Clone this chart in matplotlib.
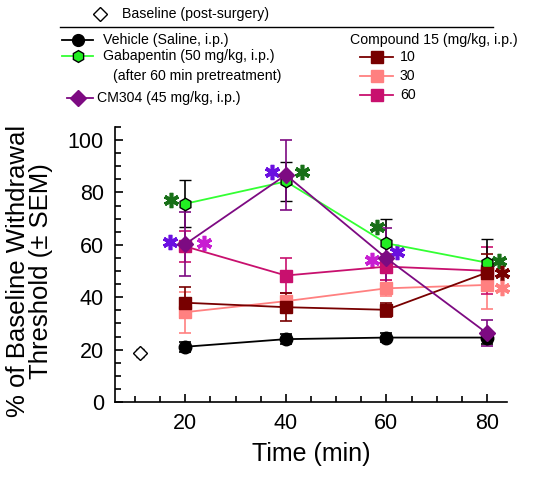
import numpy as np
import matplotlib
matplotlib.use("Agg")
import matplotlib.pyplot as plt
from matplotlib.lines import Line2D
from matplotlib.transforms import offset_copy
from matplotlib.ticker import MultipleLocator

plt.rcParams['font.family'] = ['Liberation Sans', 'DejaVu Sans']

# data (% of baseline withdrawal threshold, mean and SEM)
times = [20, 40, 60, 80]
baseline_time = [11]
baseline = [18.8]
baseline_sem = [1.5]
vehicle = [21.1, 24.0, 24.6, 24.6]
vehicle_sem = [2.0, 2.0, 1.8, 2.5]
gabapentin = [75.7, 84.2, 60.6, 53.2]
gabapentin_sem = [8.9, 7.5, 9.2, 9.0]
cm304 = [60.3, 86.7, 54.9, 26.3]
cm304_sem = [12.3, 13.5, 11.5, 4.9]
c15_10 = [37.9, 36.2, 35.2, 49.4]
c15_10_sem = [6.0, 5.3, 2.7, 7.0]
c15_30 = [34.3, 38.5, 43.4, 44.7]
c15_30_sem = [7.8, 3.0, 3.0, 9.3]
c15_60 = [59.4, 48.3, 51.7, 50.1]
c15_60_sem = [5.8, 6.6, 5.0, 8.9]

c_gab = '#33ff33'
c_gab_face = '#22ee22'
c_cm = '#7d0a82'
c_10 = '#780000'
c_30 = '#ff8080'
c_60 = '#c8106e'
c_star_green = '#187018'
c_star_blue = '#6a0fe0'
c_star_mag = '#c81ed2'

fig = plt.figure(figsize=(5.52, 4.82), dpi=100)
ax = fig.add_axes([115 / 552, 80 / 482, 392 / 552, 275 / 482])

eb = dict(capsize=4.5, elinewidth=1.2, capthick=1.2, lw=1.3)
ax.errorbar(times, c15_30, yerr=c15_30_sem, fmt='-s', color=c_30, ms=8.5, mec=c_30, **eb)
ax.errorbar(times, c15_60, yerr=c15_60_sem, fmt='-s', color=c_60, ms=8.5, mec=c_60, **eb)
ax.errorbar(times, vehicle, yerr=vehicle_sem, fmt='-o', color='black', ms=9, **eb)
ax.errorbar(times, gabapentin, yerr=gabapentin_sem, fmt='-h', color=c_gab, mfc=c_gab_face,
            mec='black', mew=1.0, ms=9, ecolor='black', **eb)
ax.errorbar(times, c15_10, yerr=c15_10_sem, fmt='-s', color=c_10, ms=8.5, mec=c_10, **eb)
ax.errorbar(times, cm304, yerr=cm304_sem, fmt='-D', color=c_cm, ms=8, mec=c_cm, **eb)
ax.errorbar(baseline_time, baseline, yerr=baseline_sem, fmt='D', mfc='white', mec='black',
            ecolor='black', ms=7, mew=1.0, capsize=3, elinewidth=1)

# significance asterisks: (series, index, dx pt, dy pt, colour)
series = {'gab': gabapentin, 'cm': cm304, '10': c15_10, '30': c15_30}
stars = [
    ('gab', 0, -10, 3, c_star_green),
    ('cm', 0, -11, 1.5, c_star_blue),
    ('cm', 0, 13.5, 1, c_star_mag),
    ('cm', 1, -10, 2, c_star_blue),
    ('gab', 1, 11.5, 6.5, c_star_green),
    ('gab', 2, -6.5, 12, c_star_green),
    ('cm', 2, -10, -1.5, c_star_mag),
    ('cm', 2, 8, 4.5, c_star_blue),
    ('gab', 3, 8.5, 1.5, c_star_green),
    ('10', 3, 11, 0, c_10),
    ('30', 3, 11, -2, c_30),
]
for key, i, dx, dy, col in stars:
    tr = offset_copy(ax.transData, fig=fig, x=dx, y=dy, units='points')
    ax.plot(times[i], series[key][i], marker=(6, 2, 0), ms=11, mew=2.6, color=col,
            transform=tr, clip_on=False)

ax.set_xlim(6, 84)
ax.set_ylim(0, 105)
ax.set_xticks([20, 40, 60, 80])
ax.set_yticks([0, 20, 40, 60, 80, 100])
ax.xaxis.set_minor_locator(MultipleLocator(5))
ax.yaxis.set_minor_locator(MultipleLocator(5))
ax.tick_params(which='both', direction='in', width=1.2, labelsize=15.5, pad=8)
ax.tick_params(which='major', length=6)
ax.tick_params(which='minor', length=4)
ax.spines['top'].set_visible(False)
ax.spines['right'].set_visible(False)
for s in ('left', 'bottom'):
    ax.spines[s].set_linewidth(1.2)

ax.set_xlabel('Time (min)', fontsize=18, labelpad=6)
ax.set_ylabel('% of Baseline Withdrawal\nThreshold (± SEM)', fontsize=18.5, linespacing=0.95)
ax.yaxis.set_label_coords(-0.158, 0.476)

# legend, drawn in figure pixels
W, H = 552, 482


def fx(px):
    return px / W


def fy(py):
    return 1 - py / H


def leg_item(x0, x1, xm, y, color, marker, ms, mfc=None, mec=None):
    fig.add_artist(Line2D([fx(x0), fx(x1)], [fy(y), fy(y)], color=color, lw=1.3))
    fig.add_artist(Line2D([fx(xm)], [fy(y)], ls='none', marker=marker, ms=ms,
                          mfc=mfc or color, mec=mec or color, mew=1.0))


fs = 10.2
fig.add_artist(Line2D([fx(100)], [fy(14)], ls='none', marker='D', mfc='white', mec='black',
                      ms=7, mew=1))
fig.text(fx(122), fy(14), 'Baseline (post-surgery)', fontsize=fs, va='center')
fig.add_artist(Line2D([fx(60), fx(493)], [fy(27), fy(27)], color='black', lw=1))

leg_item(62, 93, 78, 40, 'black', 'o', 8.5)
fig.text(fx(103), fy(40), 'Vehicle (Saline, i.p.)', fontsize=fs, va='center')
leg_item(62, 93, 78, 56, c_gab, 'h', 8.5, mfc=c_gab_face, mec='black')
fig.text(fx(103), fy(56), 'Gabapentin (50 mg/kg, i.p.)', fontsize=fs, va='center')
fig.text(fx(113), fy(76), '(after 60 min pretreatment)', fontsize=fs, va='center')
leg_item(67, 93, 78, 98, c_cm, 'D', 8)
fig.text(fx(97), fy(98), 'CM304 (45 mg/kg, i.p.)', fontsize=fs, va='center')

fig.text(fx(350), fy(40), 'Compound 15 (mg/kg, i.p.)', fontsize=fs, va='center')
for lab, col, y in [('10', c_10, 57), ('30', c_30, 76), ('60', c_60, 95)]:
    leg_item(360, 393, 377, y, col, 's', 8.5)
    fig.text(fx(400), fy(y), lab, fontsize=fs, va='center')

fig.savefig('out.png', dpi=100)
